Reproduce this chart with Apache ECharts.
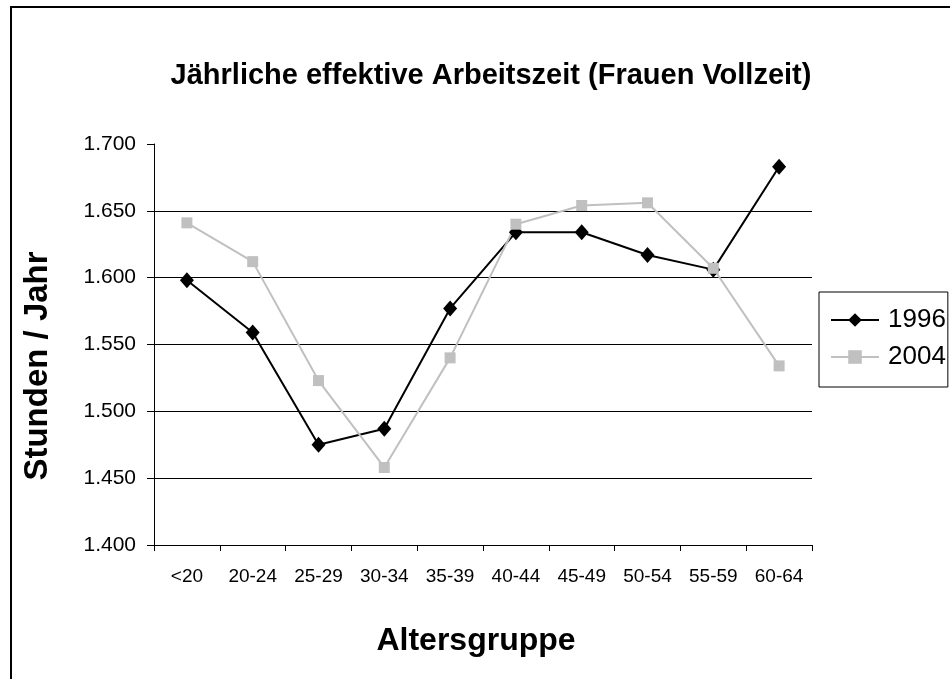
<!DOCTYPE html>
<html>
<head>
<meta charset="utf-8">
<script src="https://cdn.jsdelivr.net/npm/echarts@6/dist/echarts.min.js"></script>
<style>
html,body{margin:0;padding:0;background:#fff;}
#chart{width:950px;height:679px;}
</style>
</head>
<body>
<div id="chart"></div>
<script>
const categories = ['<20','20-24','25-29','30-34','35-39','40-44','45-49','50-54','55-59','60-64'];
const values1996 = [1598, 1559, 1475, 1487, 1577, 1634, 1634, 1617, 1606, 1683];
const values2004 = [1641, 1612, 1523, 1458, 1540, 1640, 1654, 1656, 1607, 1534];
const seriesNames = ['1996', '2004'];
const titleText = 'Jährliche effektive Arbeitszeit (Frauen Vollzeit)';
const xTitle = 'Altersgruppe';
const yTitle = 'Stunden / Jahr';

const FONT2 = '"Liberation Sans", Arial, sans-serif';
const chart = echarts.init(document.getElementById('chart'), null, {renderer: 'canvas'});
chart.setOption({
  animation: false,
  backgroundColor: '#fff',
  title: {
    text: titleText,
    left: 486,
    textAlign: 'center',
    top: 56,
    textStyle: {fontFamily: FONT2, fontSize: 29, fontWeight: 'bold', color: '#000'}
  },
  graphic: [
    {type: 'rect', shape: {x: 11, y: 7, width: 1200, height: 1000}, style: {fill: 'none', stroke: '#000', lineWidth: 2}, silent: true},
    {type: 'text', x: 38, y: 366, rotation: Math.PI / 2,
      style: {text: yTitle, fontFamily: FONT2, fontSize: 33, fontWeight: 'bold', fill: '#000', align: 'center', verticalAlign: 'middle'}},
    {type: 'text', x: 476, y: 641,
      style: {text: xTitle, fontFamily: FONT2, fontSize: 32, fontWeight: 'bold', fill: '#000', align: 'center', verticalAlign: 'middle'}}
  ],
  legend: {
    data: seriesNames,
    orient: 'vertical',
    left: 819,
    top: 292,
    padding: [14, 2, 16, 11],
    itemWidth: 48,
    itemHeight: 17,
    itemGap: 9,
    borderColor: '#000',
    borderWidth: 1,
    borderRadius: 0,
    textStyle: {fontFamily: FONT2, fontSize: 26, color: '#000', lineHeight: 28, padding: [0, 0, 0, 4]}
  },
  grid: {left: 154, right: 138, top: 144, bottom: 134, containLabel: false},
  xAxis: {
    type: 'category',
    data: categories,
    boundaryGap: true,
    axisLine: {lineStyle: {color: '#000', width: 1}},
    axisTick: {show: true, length: 6, alignWithLabel: false, lineStyle: {color: '#000'}},
    axisLabel: {fontFamily: FONT2, fontSize: 19, color: '#000', margin: 22, interval: 0},
    splitLine: {show: false}
  },
  yAxis: {
    type: 'value',
    min: 1400,
    max: 1700,
    interval: 50,
    axisLine: {show: true, lineStyle: {color: '#000', width: 1}},
    axisTick: {show: true, length: 7, lineStyle: {color: '#000'}},
    axisLabel: {fontFamily: FONT2, fontSize: 21, color: '#000', margin: 18,
      formatter: v => (v / 1000).toFixed(3)},
    splitLine: {show: true, showMinLine: false, showMaxLine: false, lineStyle: {color: '#000', width: 1}}
  },
  series: [
    {
      name: seriesNames[0], type: 'line', data: values1996,
      symbol: 'diamond', symbolSize: [14, 16],
      itemStyle: {color: '#000'},
      lineStyle: {color: '#000', width: 2}
    },
    {
      name: seriesNames[1], type: 'line', data: values2004,
      symbol: 'rect', symbolSize: 11,
      itemStyle: {color: '#c0c0c0'},
      lineStyle: {color: '#c0c0c0', width: 2}
    }
  ]
});
</script>
</body>
</html>
